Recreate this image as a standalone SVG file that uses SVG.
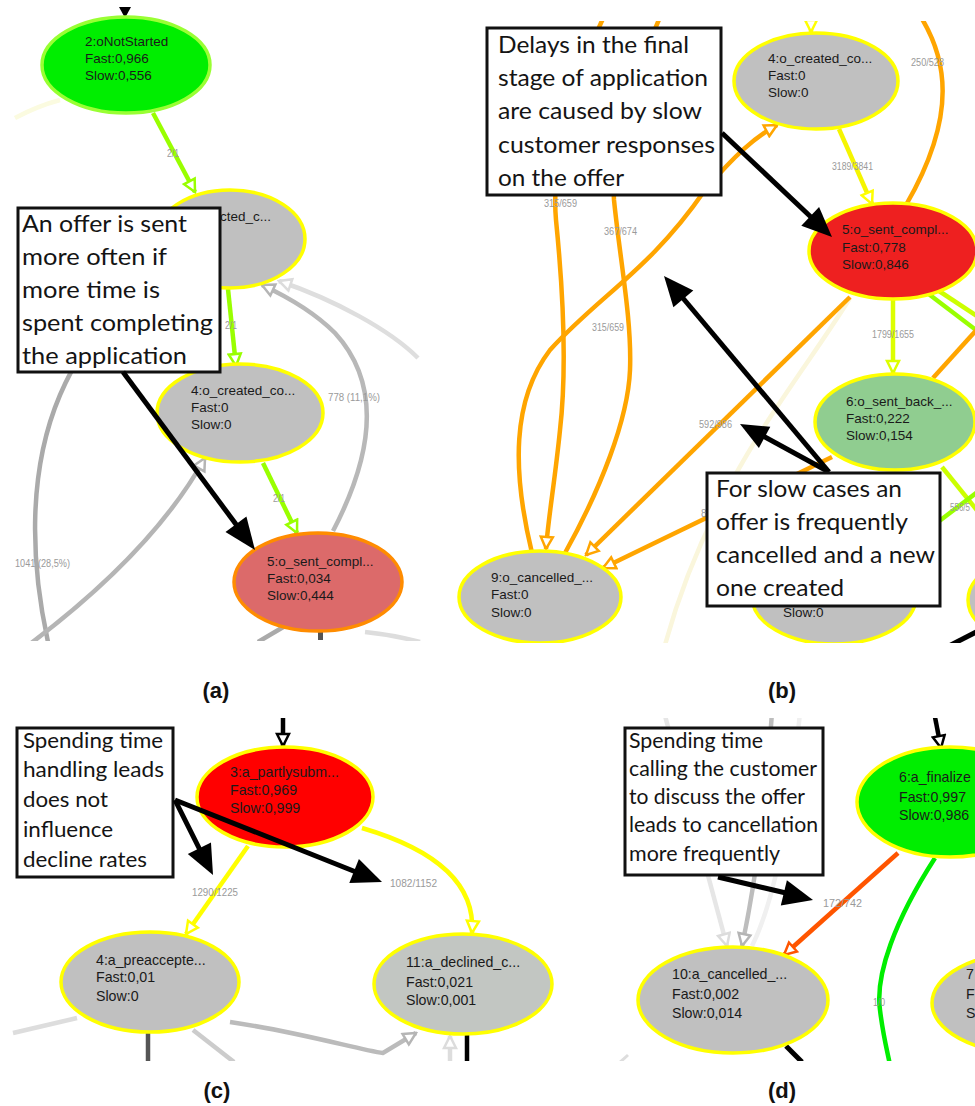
<svg xmlns="http://www.w3.org/2000/svg" width="975" height="1106" viewBox="0 0 975 1106">
<style>
.nd{stroke-width:3.5}
.gr{fill:#c0c0c0}
.ys{stroke:#ffff00}
.nt{font-family:"Liberation Sans",Arial,sans-serif;font-size:13.5px;fill:#1a1a1a}
.nt2{font-family:"Liberation Sans",Arial,sans-serif;font-size:14.2px;fill:#1a1a1a}
.el{font-family:"Liberation Sans",Arial,sans-serif;font-size:10px;fill:#9a9a9a}
.e{fill:none;stroke-width:4.5}
.box{fill:#fff;stroke:#111;stroke-width:3}
.at{font-family:Lato,"Open Sans",sans-serif;fill:#141414}
.ak{stroke:#000;stroke-width:5;fill:none}
.ah{fill:#000}
.pl{font-family:"Liberation Sans",Arial,sans-serif;font-size:22px;font-weight:bold;fill:#111;text-anchor:middle}
</style>
<defs>
<marker id="mLG" viewBox="0 0 16 16" refX="14" refY="8" markerWidth="16" markerHeight="16" markerUnits="userSpaceOnUse" orient="auto"><path d="M2,2 L14,8 L2,14 Z" fill="#fff" stroke="#99ff00" stroke-width="2.5"/></marker>
<marker id="mY" viewBox="0 0 16 16" refX="14" refY="8" markerWidth="16" markerHeight="16" markerUnits="userSpaceOnUse" orient="auto"><path d="M2,2 L14,8 L2,14 Z" fill="#fff" stroke="#ffff00" stroke-width="2.5"/></marker>
<marker id="mYG" viewBox="0 0 16 16" refX="14" refY="8" markerWidth="16" markerHeight="16" markerUnits="userSpaceOnUse" orient="auto"><path d="M2,2 L14,8 L2,14 Z" fill="#fff" stroke="#ddff00" stroke-width="2.5"/></marker>
<marker id="mO" viewBox="0 0 16 16" refX="14" refY="8" markerWidth="16" markerHeight="16" markerUnits="userSpaceOnUse" orient="auto"><path d="M2,2 L14,8 L2,14 Z" fill="#fff" stroke="#ffa500" stroke-width="2.5"/></marker>
<marker id="mOR" viewBox="0 0 16 16" refX="14" refY="8" markerWidth="16" markerHeight="16" markerUnits="userSpaceOnUse" orient="auto"><path d="M2,2 L14,8 L2,14 Z" fill="#fff" stroke="#ff5500" stroke-width="2.5"/></marker>
<marker id="mG" viewBox="0 0 16 16" refX="14" refY="8" markerWidth="16" markerHeight="16" markerUnits="userSpaceOnUse" orient="auto"><path d="M2,2 L14,8 L2,14 Z" fill="#fff" stroke="#b5b5b5" stroke-width="2.5"/></marker>
<marker id="mGL" viewBox="0 0 16 16" refX="14" refY="8" markerWidth="16" markerHeight="16" markerUnits="userSpaceOnUse" orient="auto"><path d="M2,2 L14,8 L2,14 Z" fill="#fff" stroke="#dcdcdc" stroke-width="2.5"/></marker>
<marker id="mK" viewBox="0 0 16 16" refX="14" refY="8" markerWidth="16" markerHeight="16" markerUnits="userSpaceOnUse" orient="auto"><path d="M2,2 L14,8 L2,14 Z" fill="#fff" stroke="#000" stroke-width="2.5"/></marker>
<clipPath id="clipA"><rect x="0" y="5" width="440" height="636"/></clipPath>
<clipPath id="clipB"><rect x="445" y="21" width="530" height="622"/></clipPath>
<clipPath id="clipC"><rect x="8" y="718" width="967" height="343"/></clipPath>
</defs>
<rect width="975" height="1106" fill="#fff"/>

<g id="connectors">
 <g id="edges-a" clip-path="url(#clipA)">
  <polygon points="119,7 131,7 125,18" fill="#000"/>
  <path class="e" stroke="#fbfbe0" stroke-width="3" d="M15,118 C 30,110 45,104 60,100"/>
  <path class="e" stroke="#aaaaaa" d="M48,642 C 30,560 28,470 60,395 C 75,360 95,330 120,300"/>
  <path class="e" stroke="#b5b5b5" d="M30,644 C 95,595 165,530 205,458" marker-end="url(#mG)"/>
  <path class="e" stroke="#b8b8b8" d="M333,531 C 378,445 378,380 335,333 C 315,313 290,298 262,285" marker-end="url(#mG)"/>
  <path class="e" stroke="#dedede" d="M418,358 C 390,330 335,300 279,281" marker-end="url(#mGL)"/>
  <path class="e" stroke="#aaaaaa" d="M258,642 L285,626"/>
  <path class="e" stroke="#dddddd" d="M365,632 C 385,634 405,638 420,642"/>
  <rect x="318" y="632" width="5" height="8" fill="#555"/>
  <path class="e" stroke="#99ff00" d="M153,113 L195,192" marker-end="url(#mLG)"/>
  <path class="e" stroke="#99ff00" d="M228,289 L236,366" marker-end="url(#mLG)"/>
  <path class="e" stroke="#99ff00" d="M263,463 L297,533" marker-end="url(#mLG)"/>
  <text class="el" x="167" y="157" textLength="12" lengthAdjust="spacingAndGlyphs">2/1</text>
  <text class="el" x="225" y="329" textLength="12" lengthAdjust="spacingAndGlyphs">2/1</text>
  <text class="el" x="273" y="502" textLength="12" lengthAdjust="spacingAndGlyphs">2/1</text>
  <text class="el" x="328" y="401" textLength="52" lengthAdjust="spacingAndGlyphs">778 (11,1%)</text>
  <text class="el" x="15" y="567" textLength="55" lengthAdjust="spacingAndGlyphs">1041 (28,5%)</text>
 </g>
 <g id="edges-b" clip-path="url(#clipB)">
  <path class="e" stroke="#faf6dc" stroke-width="3" d="M850,298 C 800,380 710,480 665,645"/>
  <path class="e" stroke="#ffa500" d="M615,-5 C 580,60 550,150 556,220 C 562,280 568,360 560,430 C 555,480 548,520 546,549" marker-end="url(#mO)"/>
  <path class="e" stroke="#ffa500" d="M670,-5 C 640,60 610,140 614,200 C 620,260 632,320 630,370 C 628,420 600,490 565,553"/>
  <path class="e" stroke="#ffa500" d="M532,553 C 512,470 512,400 550,350 C 600,295 650,270 705,190 C 735,155 755,137 777,125" marker-end="url(#mO)"/>
  <path class="e" stroke="#ffa500" d="M850,297 L586,555" marker-end="url(#mO)"/>
  <path class="e" stroke="#ffa500" d="M832,457 L603,568" marker-end="url(#mO)"/>
  <path class="e" stroke="#ffa500" d="M906,205 C 955,120 955,55 905,-5"/>
  <path class="e" stroke="#ffff00" d="M811,-5 L811,32" marker-end="url(#mY)"/>
  <path class="e" stroke="#f5f500" d="M839,129 L872,204" marker-end="url(#mY)"/>
  <path class="e" stroke="#ddff00" d="M893,299 L893,373" marker-end="url(#mYG)"/>
  <path class="e" stroke="#99ff00" d="M926,292 L980,333"/>
  <path class="e" stroke="#ccff00" d="M936,289 L980,318"/>
  <path class="e" stroke="#ffa500" d="M933,378 L980,326"/>
  <path class="e" stroke="#ccff00" d="M942,467 L980,514"/>
  <path class="e" stroke="#99ff00" d="M938,522 L980,490"/>
  <path d="M945,648 L980,630" stroke="#000" stroke-width="5"/>
  <text class="el" x="911" y="66" textLength="33" lengthAdjust="spacingAndGlyphs">250/528</text>
  <text class="el" x="832" y="170" textLength="41" lengthAdjust="spacingAndGlyphs">3189/3841</text>
  <text class="el" x="544" y="207" textLength="33" lengthAdjust="spacingAndGlyphs">315/659</text>
  <text class="el" x="604" y="235" textLength="33" lengthAdjust="spacingAndGlyphs">367/674</text>
  <text class="el" x="592" y="331" textLength="32" lengthAdjust="spacingAndGlyphs">315/659</text>
  <text class="el" x="872" y="338" textLength="42" lengthAdjust="spacingAndGlyphs">1799/1655</text>
  <text class="el" x="699" y="428" textLength="33" lengthAdjust="spacingAndGlyphs">592/986</text>
  <text class="el" x="701" y="517">8</text>
  <text class="el" x="950" y="511" textLength="20" lengthAdjust="spacingAndGlyphs">556/5</text>
 </g>
 <g id="edges-cd" clip-path="url(#clipC)">
  <path class="e" stroke="#000" stroke-width="3" d="M283,714 L283,746" marker-end="url(#mK)"/>
  <path class="e" stroke="#ffff00" d="M248,846 L186,934" marker-end="url(#mY)"/>
  <path class="e" stroke="#ffff00" d="M362,828 C 430,848 476,880 472,933" marker-end="url(#mY)"/>
  <path class="e" stroke="#dddddd" d="M13,1033 L77,1018"/>
  <path class="e" stroke="#555555" stroke-width="5" d="M148,1031 L148,1065"/>
  <path class="e" stroke="#cccccc" d="M193,1030 L234,1062"/>
  <path class="e" stroke="#bbbbbb" d="M230,1022 C 300,1032 360,1050 383,1053 L416,1033" marker-end="url(#mG)"/>
  <path class="e" stroke="#dddddd" d="M450,1065 L450,1036" marker-end="url(#mGL)"/>
  <path class="e" stroke="#000" stroke-width="5" d="M467,1033 L467,1065"/>
  <path class="e" stroke="#000" stroke-width="3" d="M934,712 L941,748" marker-end="url(#mK)"/>
  <path class="e" stroke="#e6e6e6" d="M664,712 L727,946" marker-end="url(#mGL)"/>
  <path class="e" stroke="#bdbdbd" d="M772,712 C 766,800 756,880 742,946" marker-end="url(#mG)"/>
  <path class="e" stroke="#f0f0f0" stroke-width="3" d="M800,712 C 790,820 775,900 752,946"/>
  <path class="e" stroke="#ff5500" d="M898,853 L784,955" marker-end="url(#mOR)"/>
  <path class="e" stroke="#00ee00" d="M935,858 C 895,920 875,975 880,1010 C 883,1035 887,1050 890,1065"/>
  <path d="M786,1046 L802,1062" stroke="#000" stroke-width="5"/>
  <path d="M618,1064 L628,1055" stroke="#dddddd" stroke-width="3"/>
  <text class="el" x="192" y="896" textLength="46" lengthAdjust="spacingAndGlyphs">1290/1225</text>
  <text class="el" x="390" y="887" textLength="47" lengthAdjust="spacingAndGlyphs">1082/1152</text>
  <text class="el" x="823" y="907" textLength="39" lengthAdjust="spacingAndGlyphs">172/742</text>
  <text class="el" x="873" y="1006" textLength="12" lengthAdjust="spacingAndGlyphs">1/0</text>
 </g>
</g>

<g id="node-a2">
 <ellipse class="nd" cx="126" cy="65" rx="84" ry="48" fill="#00ee00" stroke="#99ff33"/>
 <text class="nt" x="85" y="46">2:oNotStarted</text>
 <text class="nt" x="85" y="63">Fast:0,966</text>
 <text class="nt" x="85" y="80">Slow:0,556</text>
</g>
<g id="node-a3">
 <ellipse class="nd gr ys" cx="230" cy="239" rx="75" ry="49"/>
 <text class="nt" x="220" y="221">cted_c...</text>
</g>
<g id="node-a4">
 <ellipse class="nd gr ys" cx="240" cy="413" rx="83" ry="49"/>
 <text class="nt" x="191" y="395">4:o_created_co...</text>
 <text class="nt" x="191" y="412">Fast:0</text>
 <text class="nt" x="191" y="429">Slow:0</text>
</g>
<g id="node-a5" clip-path="url(#clipA)">
 <ellipse class="nd" cx="318" cy="582" rx="84" ry="49" fill="#dc6a6a" stroke="#ff8c00"/>
 <text class="nt" x="267" y="566">5:o_sent_compl...</text>
 <text class="nt" x="267" y="583">Fast:0,034</text>
 <text class="nt" x="267" y="600">Slow:0,444</text>
</g>

<g id="node-b4" clip-path="url(#clipB)">
 <ellipse class="nd gr ys" cx="816" cy="81" rx="82" ry="48"/>
 <text class="nt" x="768" y="63">4:o_created_co...</text>
 <text class="nt" x="768" y="80">Fast:0</text>
 <text class="nt" x="768" y="97">Slow:0</text>
</g>
<g id="node-b5" clip-path="url(#clipB)">
 <ellipse class="nd ys" cx="893" cy="251" rx="84" ry="48" fill="#ee2020"/>
 <text class="nt" x="842" y="234">5:o_sent_compl...</text>
 <text class="nt" x="842" y="252">Fast:0,778</text>
 <text class="nt" x="842" y="269">Slow:0,846</text>
</g>
<g id="node-b6" clip-path="url(#clipB)">
 <ellipse class="nd ys" cx="895" cy="422" rx="80" ry="48" fill="#90cd90"/>
 <text class="nt" x="846" y="406">6:o_sent_back_...</text>
 <text class="nt" x="846" y="423">Fast:0,222</text>
 <text class="nt" x="846" y="440">Slow:0,154</text>
</g>
<g id="node-b9" clip-path="url(#clipB)">
 <ellipse class="nd gr ys" cx="540" cy="597" rx="81" ry="46"/>
 <text class="nt" x="491" y="582">9:o_cancelled_...</text>
 <text class="nt" x="491" y="599">Fast:0</text>
 <text class="nt" x="491" y="617">Slow:0</text>
</g>
<g id="node-b-lower" clip-path="url(#clipB)">
 <ellipse class="nd gr ys" cx="834" cy="597" rx="82" ry="47"/>
 <text class="nt" x="783" y="617">Slow:0</text>
</g>
<g id="node-b-right" clip-path="url(#clipB)">
 <ellipse class="nd gr ys" cx="1050" cy="600" rx="82" ry="47"/>
</g>

<g id="node-c3">
 <ellipse class="nd ys" cx="285" cy="797" rx="88" ry="50" fill="#ff0000"/>
 <text class="nt2" x="230" y="777" fill="#2a0000">3:a_partlysubm...</text>
 <text class="nt2" x="230" y="795">Fast:0,969</text>
 <text class="nt2" x="230" y="813">Slow:0,999</text>
</g>
<g id="node-c4">
 <ellipse class="nd gr ys" cx="150" cy="982" rx="89" ry="50"/>
 <text class="nt2" x="96" y="965">4:a_preaccepte...</text>
 <text class="nt2" x="96" y="982">Fast:0,01</text>
 <text class="nt2" x="96" y="1001">Slow:0</text>
</g>
<g id="node-c11">
 <ellipse class="nd ys" cx="463" cy="984" rx="89" ry="50" fill="#c2c6c2"/>
 <text class="nt2" x="406" y="967">11:a_declined_c...</text>
 <text class="nt2" x="406" y="987">Fast:0,021</text>
 <text class="nt2" x="406" y="1005">Slow:0,001</text>
</g>
<g id="node-d8">
 <ellipse class="nd ys" cx="950" cy="802" rx="93" ry="55" fill="#00ee00"/>
 <text class="nt2" x="899" y="782">6:a_finalize</text>
 <text class="nt2" x="899" y="802">Fast:0,997</text>
 <text class="nt2" x="899" y="820">Slow:0,986</text>
</g>
<g id="node-d10">
 <ellipse class="nd gr ys" cx="733" cy="1000" rx="95" ry="53"/>
 <text class="nt2" x="672" y="979">10:a_cancelled_...</text>
 <text class="nt2" x="672" y="999">Fast:0,002</text>
 <text class="nt2" x="672" y="1018">Slow:0,014</text>
</g>
<g id="node-d7">
 <ellipse class="nd gr ys" cx="1025" cy="1003" rx="93" ry="50"/>
 <text class="nt2" x="966" y="979">7</text>
 <text class="nt2" x="966" y="999">F</text>
 <text class="nt2" x="966" y="1018">S</text>
</g>

<g id="note-a">
 <rect class="box" x="18" y="208" width="202" height="164"/>
 <text class="at" font-size="24" x="22" y="232" textLength="165" lengthAdjust="spacingAndGlyphs">An offer is sent</text>
 <text class="at" font-size="24" x="22" y="265" textLength="145" lengthAdjust="spacingAndGlyphs">more often if</text>
 <text class="at" font-size="24" x="22" y="298" textLength="138" lengthAdjust="spacingAndGlyphs">more time is</text>
 <text class="at" font-size="24" x="22" y="331" textLength="191" lengthAdjust="spacingAndGlyphs">spent completing</text>
 <text class="at" font-size="24" x="22" y="364" textLength="165" lengthAdjust="spacingAndGlyphs">the application</text>
 <path class="ak" d="M123,372 L238,527"/>
 <polygon class="ah" points="255,550 225.5,532 246.4,516.5"/>
</g>

<g id="note-b1">
 <rect class="box" x="487" y="28" width="234" height="167"/>
 <text class="at" font-size="24" x="498" y="53" textLength="191" lengthAdjust="spacingAndGlyphs">Delays in the final</text>
 <text class="at" font-size="24" x="498" y="86" textLength="210" lengthAdjust="spacingAndGlyphs">stage of application</text>
 <text class="at" font-size="24" x="498" y="119" textLength="204" lengthAdjust="spacingAndGlyphs">are caused by slow</text>
 <text class="at" font-size="24" x="498" y="153" textLength="217" lengthAdjust="spacingAndGlyphs">customer responses</text>
 <text class="at" font-size="24" x="498" y="186" textLength="126" lengthAdjust="spacingAndGlyphs">on the offer</text>
 <path class="ak" d="M722,133 L812,218"/>
 <polygon class="ah" points="832,237 801.3,225.8 819.1,206.9"/>
</g>

<g id="note-b2">
 <path class="ak" d="M829,472 L682,297"/>
 <polygon class="ah" points="664,276 693.3,290.6 673.4,307.3"/>
 <path class="ak" d="M829,472 L763,436"/>
 <polygon class="ah" points="740,424 770.3,426.7 758.9,447.9"/>
 <rect class="box" x="707" y="473" width="233" height="133"/>
 <text class="at" font-size="24" x="716" y="497" textLength="186" lengthAdjust="spacingAndGlyphs">For slow cases an</text>
 <text class="at" font-size="24" x="716" y="530" textLength="192" lengthAdjust="spacingAndGlyphs">offer is frequently</text>
 <text class="at" font-size="24" x="716" y="563" textLength="219" lengthAdjust="spacingAndGlyphs">cancelled and a new</text>
 <text class="at" font-size="24" x="716" y="596" textLength="128" lengthAdjust="spacingAndGlyphs">one created</text>
</g>

<g id="note-c">
 <rect class="box" x="17" y="728" width="156" height="149"/>
 <text class="at" font-size="21.5" x="23" y="748" textLength="140" lengthAdjust="spacingAndGlyphs">Spending time</text>
 <text class="at" font-size="21.5" x="23" y="777" textLength="141" lengthAdjust="spacingAndGlyphs">handling leads</text>
 <text class="at" font-size="21.5" x="23" y="807" textLength="85" lengthAdjust="spacingAndGlyphs">does not</text>
 <text class="at" font-size="21.5" x="23" y="837" textLength="90" lengthAdjust="spacingAndGlyphs">influence</text>
 <text class="at" font-size="21.5" x="23" y="867" textLength="124" lengthAdjust="spacingAndGlyphs">decline rates</text>
 <path class="ak" d="M175,800 L200,850"/>
 <polygon class="ah" points="213,875 187.8,854.1 211,842.4"/>
 <path class="ak" d="M175,800 L356,872"/>
 <polygon class="ah" points="382,882 349.3,883 358.9,858.9"/>
</g>

<g id="note-d">
 <rect class="box" x="625" y="728" width="198" height="147"/>
 <text class="at" font-size="20.5" x="629" y="748" textLength="134" lengthAdjust="spacingAndGlyphs">Spending time</text>
 <text class="at" font-size="20.5" x="629" y="776" textLength="188" lengthAdjust="spacingAndGlyphs">calling the customer</text>
 <text class="at" font-size="20.5" x="629" y="804" textLength="176" lengthAdjust="spacingAndGlyphs">to discuss the offer</text>
 <text class="at" font-size="20.5" x="629" y="832" textLength="189" lengthAdjust="spacingAndGlyphs">leads to cancellation</text>
 <text class="at" font-size="20.5" x="629" y="861" textLength="151" lengthAdjust="spacingAndGlyphs">more frequently</text>
 <path class="ak" d="M718,877 L786,893"/>
 <polygon class="ah" points="813,900 780.8,905.6 786.9,880.3"/>
</g>

<g id="panel-labels">
 <text class="pl" x="216" y="698">(a)</text>
 <text class="pl" x="782" y="698">(b)</text>
 <text class="pl" x="217" y="1098">(c)</text>
 <text class="pl" x="782" y="1098">(d)</text>
</g>
</svg>
